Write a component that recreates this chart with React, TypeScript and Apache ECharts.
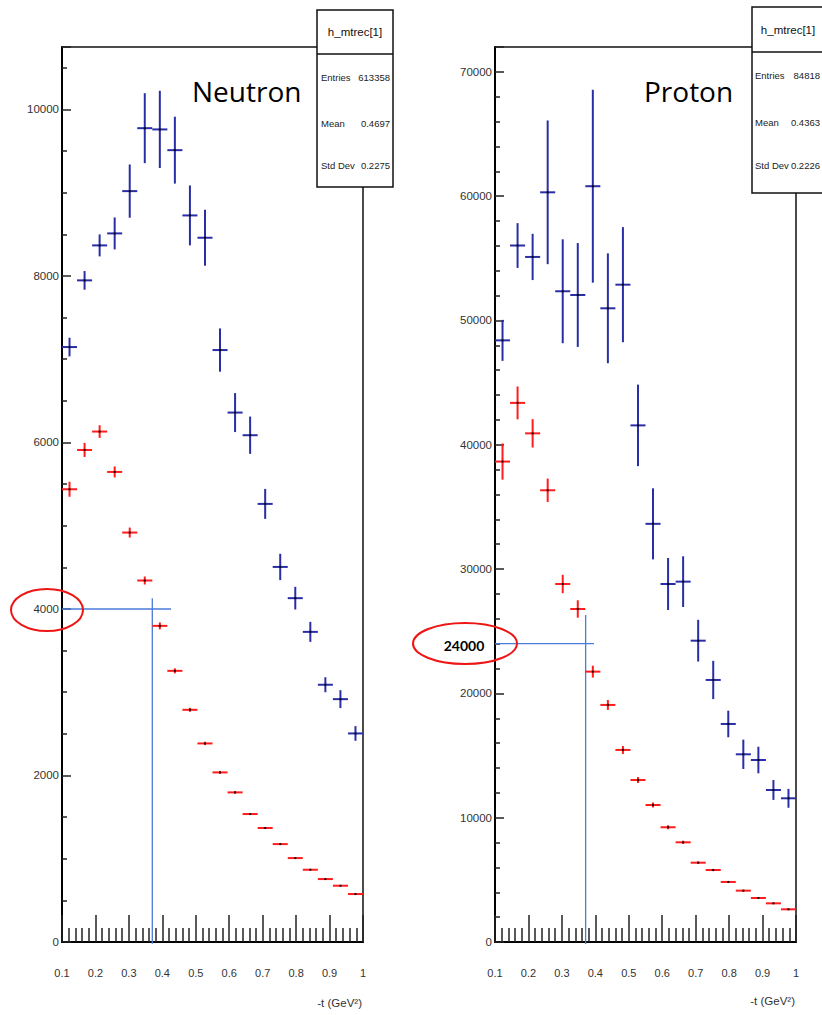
import React, { useEffect, useRef } from 'react';
import * as echarts from 'echarts';

// ---- data ----
const binCenters = [0.1225, 0.1675, 0.2125, 0.2575, 0.3025, 0.3475, 0.3925, 0.4375, 0.4825, 0.5275,
  0.5725, 0.6175, 0.6625, 0.7075, 0.7525, 0.7975, 0.8425, 0.8875, 0.9325, 0.9775];
const binHalfWidth = 0.0225;

const neutronBlue = [7146, 7947, 8367, 8511, 9019, 9775, 9760, 9511, 8727, 8459, 7110, 6359, 6087, 5262, 4505, 4130, 3725, 3090, 2917, 2505];
const neutronBlueErr = [112, 112, 132, 192, 320, 420, 464, 402, 360, 336, 260, 234, 224, 180, 158, 136, 120, 90, 108, 88];
const neutronRed = [5438, 5910, 6131, 5646, 4918, 4342, 3797, 3257, 2789, 2385, 2037, 1797, 1537, 1369, 1176, 1008, 868, 756, 676, 576];
const neutronRedErr = [90, 84, 76, 66, 60, 48, 42, 30, 24, 20, 18, 15, 12, 10, 10, 8, 8, 6, 6, 6];

const protonBlue = [48400, 56030, 55110, 60310, 52350, 52050, 60800, 50980, 52880, 41560, 33640, 28800, 28990, 24240, 21080, 17540, 15100, 14640, 12230, 11560];
const protonBlueErr = [1650, 1800, 1860, 5780, 4180, 4180, 7760, 4420, 4630, 3280, 2860, 2090, 2040, 1680, 1540, 1070, 1180, 1070, 800, 760];
const protonRed = [38650, 43370, 40920, 36340, 28800, 26790, 21750, 19070, 15450, 13030, 11020, 9230, 8020, 6380, 5790, 4830, 4130, 3540, 3110, 2630];
const protonRedErr = [1455, 1320, 1140, 940, 740, 700, 480, 400, 320, 240, 200, 160, 130, 100, 90, 80, 70, 60, 50, 50];

const neutronGuideH = [[0.1, 4000], [0.426, 4000]];
const neutronGuideV = [[0.37, 4130], [0.37, -20]];
const protonGuideH = [[0.1, 24000], [0.396, 24000]];
const protonGuideV = [[0.371, 26300], [0.371, -160]];

const histName = 'h_mtrec[1]';
const statLabels = ['Entries', 'Mean', 'Std Dev'];
const neutronStats = ['613358', '0.4697', '0.2275'];
const protonStats = ['84818', '0.4363', '0.2226'];
const panelTitles = ['Neutron', 'Proton'];
const xAxisTitle = '-t (GeV²)';
const highlightLabel = '24000';

const BLUE = '#2a2ea6';
const RED = '#ff1c1c';
const GUIDE = '#4a7bd8';
const AXIS_FONT = 'Liberation Sans, Arial, sans-serif';
const TITLE_FONT = '"Open Sans", Lato, sans-serif';

function errRender(color: string) {
  return (params: any, api: any) => {
    const x = api.value(0), y = api.value(1), e = api.value(2);
    const c = api.coord([x, y]);
    const t = api.coord([x, y + e]);
    const b = api.coord([x, y - e]);
    const l = api.coord([x - binHalfWidth, y]);
    const r = api.coord([x + binHalfWidth, y]);
    return {
      type: 'group',
      children: [
        { type: 'line', shape: { x1: t[0], y1: t[1], x2: b[0], y2: b[1] }, style: { stroke: color, lineWidth: 2 } },
        { type: 'line', shape: { x1: l[0], y1: l[1], x2: r[0], y2: r[1] }, style: { stroke: color, lineWidth: 2 } },
        { type: 'rect', shape: { x: c[0] - 1, y: c[1] - 1, width: 2, height: 2 }, style: { fill: '#000', opacity: 0.85 } },
      ],
    };
  };
}

function errSeries(idx: number, vals: number[], errs: number[], color: string) {
  return {
    type: 'custom',
    xAxisIndex: idx,
    yAxisIndex: idx,
    renderItem: errRender(color),
    data: binCenters.map((x, i) => [x, vals[i], errs[i]]),
    clip: false,
    silent: true,
    z: 3,
  };
}

function guideSeries(idx: number, data: number[][]) {
  return {
    type: 'line',
    xAxisIndex: idx,
    yAxisIndex: idx,
    data,
    symbol: 'none',
    clip: false,
    silent: true,
    color: GUIDE,
    lineStyle: { color: GUIDE, width: 1.3 },
    z: 2,
  };
}

function xAxis(gridIndex: number) {
  return {
    type: 'value',
    gridIndex,
    min: 0.1,
    max: 1,
    interval: 0.1,
    axisLine: { show: true, onZero: false, lineStyle: { color: '#000', width: 2 } },
    axisTick: { show: true, inside: true, length: 27, lineStyle: { color: '#222', width: 1.5 } },
    minorTick: { show: true, splitNumber: 5, length: 14, lineStyle: { color: '#222', width: 1.5 } },
    axisLabel: { margin: 25, fontSize: 11, color: '#333', fontFamily: AXIS_FONT, showMinLabel: true, showMaxLabel: true },
    splitLine: { show: false },
    minorSplitLine: { show: false },
  };
}

function yAxis(gridIndex: number, max: number, interval: number, minorSplit: number) {
  return {
    type: 'value',
    gridIndex,
    min: 0,
    max,
    interval,
    axisLine: { show: true, onZero: false, lineStyle: { color: '#000', width: 2 } },
    axisTick: { show: true, inside: true, length: 9, lineStyle: { color: '#222', width: 1.5 } },
    minorTick: { show: true, splitNumber: minorSplit, length: 5, lineStyle: { color: '#222', width: 1.5 } },
    axisLabel: {
      margin: 3, fontSize: 11.5, color: '#333', fontFamily: AXIS_FONT, showMaxLabel: false, showMinLabel: true,
      formatter: (v: number) => String(Math.round(v)),
    },
    splitLine: { show: false },
  };
}

function statsBox(x: number, y: number, w: number, h: number, divY: number, titleX: number, rowsY: number[], labelX: number, valueX: number, vals: string[]) {
  const children: any[] = [
    { type: 'rect', shape: { x, y, width: w, height: h }, style: { fill: '#fff', stroke: '#111', lineWidth: 1.5 } },
    { type: 'line', shape: { x1: x, y1: divY, x2: x + w, y2: divY }, style: { stroke: '#111', lineWidth: 1.5 } },
    { type: 'text', x: titleX, y: (y + divY) / 2, style: { text: histName, fill: '#111', font: `11.5px ${AXIS_FONT}`, align: 'center', verticalAlign: 'middle' } },
  ];
  statLabels.forEach((lab, i) => {
    children.push({ type: 'text', x: labelX, y: rowsY[i], style: { text: lab, fill: '#222', font: `9.5px ${AXIS_FONT}`, align: 'left', verticalAlign: 'middle' } });
    children.push({ type: 'text', x: valueX, y: rowsY[i], style: { text: vals[i], fill: '#222', font: `9.5px ${AXIS_FONT}`, align: 'right', verticalAlign: 'middle' } });
  });
  return { type: 'group', z: 10, children };
}

export default function App() {
  const ref = useRef<HTMLDivElement>(null);
  useEffect(() => {
    if (!ref.current) return;
    const chart = echarts.init(ref.current, null, { renderer: 'svg' });
    chart.setOption({
      animation: false,
      backgroundColor: '#fff',
      grid: [
        { left: 62, top: 47, width: 301, height: 895, show: true, borderColor: '#111', borderWidth: 1.5, backgroundColor: 'transparent' },
        { left: 495, top: 47, width: 301, height: 895, show: true, borderColor: '#111', borderWidth: 1.5, backgroundColor: 'transparent' },
      ],
      xAxis: [xAxis(0), xAxis(1)],
      yAxis: [yAxis(0, 10750, 2000, 4), yAxis(1, 72000, 10000, 5)],
      series: [
        guideSeries(0, neutronGuideH),
        guideSeries(0, neutronGuideV),
        guideSeries(1, protonGuideH),
        guideSeries(1, protonGuideV),
        errSeries(0, neutronBlue, neutronBlueErr, BLUE),
        errSeries(0, neutronRed, neutronRedErr, RED),
        errSeries(1, protonBlue, protonBlueErr, BLUE),
        errSeries(1, protonRed, protonRedErr, RED),
      ],
      graphic: [
        { type: 'text', left: 192, top: 77, style: { text: panelTitles[0], fill: '#000', font: `28px ${TITLE_FONT}` }, z: 5 },
        { type: 'text', left: 644, top: 77, style: { text: panelTitles[1], fill: '#000', font: `28px ${TITLE_FONT}` }, z: 5 },
        statsBox(317, 10, 76, 177, 54, 355, [77, 123, 165], 321, 390, neutronStats),
        statsBox(752, 7, 90, 186, 52, 788, [75, 122, 165], 755, 820, protonStats),
        { type: 'text', x: 362, y: 1003, style: { text: xAxisTitle, fill: '#333', font: `11.5px ${AXIS_FONT}`, align: 'right', verticalAlign: 'middle' }, z: 5 },
        { type: 'text', x: 795, y: 1001, style: { text: xAxisTitle, fill: '#333', font: `11.5px ${AXIS_FONT}`, align: 'right', verticalAlign: 'middle' }, z: 5 },
        { type: 'ellipse', shape: { cx: 47, cy: 610, rx: 36, ry: 21 }, style: { fill: 'none', stroke: '#ee1515', lineWidth: 2 }, z: 6 },
        { type: 'ellipse', shape: { cx: 465, cy: 643.5, rx: 52, ry: 20.5 }, style: { fill: 'none', stroke: '#ee1515', lineWidth: 2 }, z: 6 },
        { type: 'text', x: 464, y: 645, style: { text: highlightLabel, fill: '#000', font: 'bold 14px Lato, "Open Sans", sans-serif', align: 'center', verticalAlign: 'middle' }, z: 6 },
      ],
    });
    return () => chart.dispose();
  }, []);
  return <div ref={ref} style={{ position: 'fixed', left: 0, top: 0, width: 822, height: 1015, background: '#fff' }} />;
}
